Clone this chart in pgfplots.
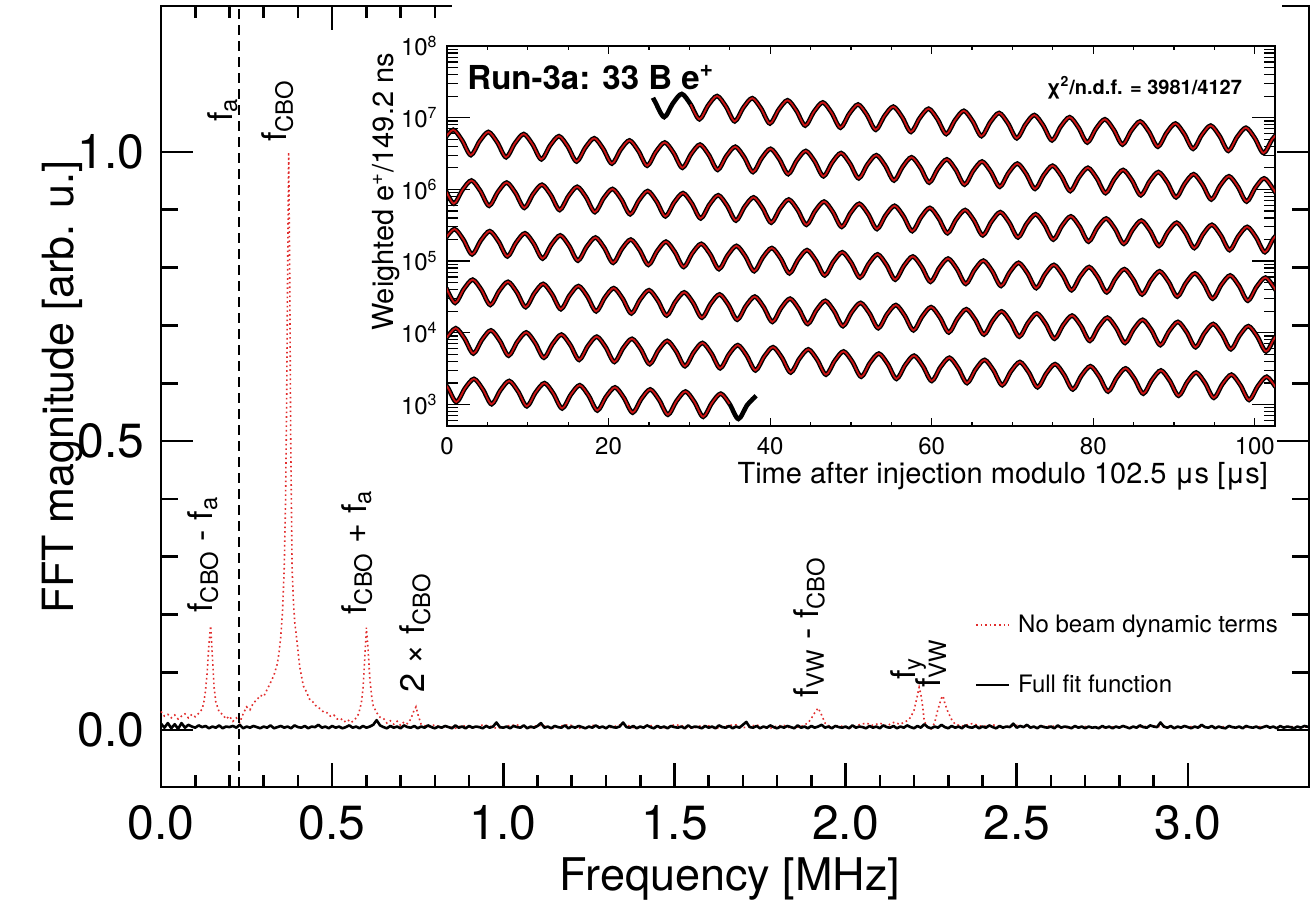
\documentclass[border=0pt]{standalone}
\usepackage{fontspec}
\setmainfont{TeX Gyre Heros}
\usepackage{pgfplots}
\pgfplotsset{compat=1.18}
\usepackage{pgfplotstable}
\definecolor{fitred}{RGB}{205,20,20}
\definecolor{fftred}{RGB}{225,45,45}
\newcommand{\tickfont}{\fontsize{24}{28}\selectfont}
\newcommand{\labfont}{\fontsize{22.5}{26}\selectfont}
\newcommand{\ylabfont}{\fontsize{21.5}{25}\selectfont}
\newcommand{\anfont}{\fontsize{17}{20}\selectfont}
\newcommand{\itick}{\fontsize{12}{14}\selectfont}
\newcommand{\ilab}{\fontsize{14.5}{17}\selectfont}

\pgfplotstableread{
t L
25.50 7.278
25.79 7.216
26.88 7.008
27.97 7.201
29.06 7.331
30.15 7.187
31.24 6.978
32.33 7.172
33.43 7.302
34.52 7.158
35.61 6.949
36.70 7.143
37.79 7.272
38.88 7.128
39.97 6.919
41.06 7.113
42.16 7.243
43.25 7.099
44.34 6.890
45.43 7.084
46.52 7.213
47.61 7.069
48.70 6.860
49.79 7.054
50.89 7.184
51.98 7.040
53.07 6.831
54.16 7.025
55.25 7.154
56.34 7.010
57.43 6.801
58.52 6.995
59.62 7.125
60.71 6.981
61.80 6.772
62.89 6.966
63.98 7.096
65.07 6.952
66.16 6.743
67.25 6.937
68.35 7.066
69.44 6.922
70.53 6.713
71.62 6.907
72.71 7.037
73.80 6.893
74.89 6.684
75.98 6.878
77.08 7.007
78.17 6.863
79.26 6.654
80.35 6.848
81.44 6.978
82.53 6.834
83.62 6.625
84.71 6.819
85.81 6.948
86.90 6.804
87.99 6.595
89.08 6.789
90.17 6.919
91.26 6.775
92.35 6.566
93.44 6.760
94.54 6.890
95.63 6.746
96.72 6.537
97.81 6.731
98.90 6.860
99.99 6.716
101.08 6.507
102.17 6.701
103.27 6.831
}\rowA

\pgfplotstableread{
t L
-0.33 6.701
0.77 6.831
1.86 6.686
2.95 6.478
4.04 6.672
5.13 6.801
6.22 6.657
7.31 6.448
8.40 6.642
9.50 6.772
10.59 6.628
11.68 6.419
12.77 6.613
13.86 6.742
14.95 6.598
16.04 6.389
17.13 6.583
18.23 6.713
19.32 6.569
20.41 6.360
21.50 6.554
22.59 6.683
23.68 6.539
24.77 6.330
25.86 6.524
26.96 6.654
28.05 6.510
29.14 6.301
30.23 6.495
31.32 6.625
32.41 6.481
33.50 6.272
34.59 6.466
35.69 6.595
36.78 6.451
37.87 6.242
38.96 6.436
40.05 6.566
41.14 6.422
42.23 6.213
43.32 6.407
44.42 6.536
45.51 6.392
46.60 6.183
47.69 6.377
48.78 6.507
49.87 6.363
50.96 6.154
52.05 6.348
53.15 6.477
54.24 6.333
55.33 6.124
56.42 6.318
57.51 6.448
58.60 6.304
59.69 6.095
60.78 6.289
61.88 6.419
62.97 6.275
64.06 6.066
65.15 6.260
66.24 6.389
67.33 6.245
68.42 6.036
69.51 6.230
70.61 6.360
71.70 6.216
72.79 6.007
73.88 6.201
74.97 6.330
76.06 6.186
77.15 5.977
78.24 6.171
79.34 6.301
80.43 6.157
81.52 5.948
82.61 6.142
83.70 6.271
84.79 6.127
85.88 5.918
86.97 6.112
88.07 6.242
89.16 6.098
90.25 5.889
91.34 6.083
92.43 6.212
93.52 6.068
94.61 5.859
95.70 6.053
96.80 6.183
97.89 6.039
98.98 5.830
100.07 6.024
101.16 6.154
102.25 6.010
103.34 5.801
}\rowB

\pgfplotstableread{
t L
-0.25 6.010
0.84 5.801
1.93 5.995
3.03 6.124
4.12 5.980
5.21 5.771
6.30 5.965
7.39 6.095
8.48 5.951
9.57 5.742
10.66 5.936
11.76 6.065
12.85 5.921
13.94 5.712
15.03 5.906
16.12 6.036
17.21 5.892
18.30 5.683
19.39 5.877
20.49 6.006
21.58 5.862
22.67 5.653
23.76 5.847
24.85 5.977
25.94 5.833
27.03 5.624
28.12 5.818
29.22 5.948
30.31 5.804
31.40 5.595
32.49 5.789
33.58 5.918
34.67 5.774
35.76 5.565
36.85 5.759
37.95 5.889
39.04 5.745
40.13 5.536
41.22 5.730
42.31 5.859
43.40 5.715
44.49 5.506
45.58 5.700
46.68 5.830
47.77 5.686
48.86 5.477
49.95 5.671
51.04 5.800
52.13 5.656
53.22 5.447
54.31 5.641
55.41 5.771
56.50 5.627
57.59 5.418
58.68 5.612
59.77 5.742
60.86 5.598
61.95 5.389
63.04 5.583
64.14 5.712
65.23 5.568
66.32 5.359
67.41 5.553
68.50 5.683
69.59 5.539
70.68 5.330
71.77 5.524
72.87 5.653
73.96 5.509
75.05 5.300
76.14 5.494
77.23 5.624
78.32 5.480
79.41 5.271
80.50 5.465
81.60 5.594
82.69 5.450
83.78 5.241
84.87 5.435
85.96 5.565
87.05 5.421
88.14 5.212
89.23 5.406
90.33 5.535
91.42 5.391
92.51 5.182
93.60 5.376
94.69 5.506
95.78 5.362
96.87 5.153
97.96 5.347
99.06 5.477
100.15 5.333
101.24 5.124
102.33 5.318
103.42 5.447
}\rowC

\pgfplotstableread{
t L
-0.17 5.318
0.92 5.447
2.01 5.303
3.10 5.094
4.19 5.288
5.29 5.418
6.38 5.274
7.47 5.065
8.56 5.259
9.65 5.388
10.74 5.244
11.83 5.035
12.92 5.229
14.02 5.359
15.11 5.215
16.20 5.006
17.29 5.200
18.38 5.329
19.47 5.185
20.56 4.976
21.65 5.170
22.75 5.300
23.84 5.156
24.93 4.947
26.02 5.141
27.11 5.271
28.20 5.127
29.29 4.918
30.38 5.112
31.48 5.241
32.57 5.097
33.66 4.888
34.75 5.082
35.84 5.212
36.93 5.068
38.02 4.859
39.11 5.053
40.21 5.182
41.30 5.038
42.39 4.829
43.48 5.023
44.57 5.153
45.66 5.009
46.75 4.800
47.84 4.994
48.94 5.123
50.03 4.979
51.12 4.770
52.21 4.964
53.30 5.094
54.39 4.950
55.48 4.741
56.57 4.935
57.67 5.064
58.76 4.920
59.85 4.711
60.94 4.905
62.03 5.035
63.12 4.891
64.21 4.682
65.30 4.876
66.40 5.006
67.49 4.862
68.58 4.653
69.67 4.847
70.76 4.976
71.85 4.832
72.94 4.623
74.03 4.817
75.13 4.947
76.22 4.803
77.31 4.594
78.40 4.788
79.49 4.917
80.58 4.773
81.67 4.564
82.76 4.758
83.86 4.888
84.95 4.744
86.04 4.535
87.13 4.729
88.22 4.858
89.31 4.714
90.40 4.505
91.49 4.699
92.59 4.829
93.68 4.685
94.77 4.476
95.86 4.670
96.95 4.800
98.04 4.656
99.13 4.447
100.22 4.641
101.32 4.770
102.41 4.626
103.50 4.417
}\rowD

\pgfplotstableread{
t L
-0.09 4.626
1.00 4.417
2.09 4.611
3.18 4.741
4.27 4.597
5.36 4.388
6.45 4.582
7.55 4.711
8.64 4.567
9.73 4.358
10.82 4.552
11.91 4.682
13.00 4.538
14.09 4.329
15.18 4.523
16.28 4.652
17.37 4.508
18.46 4.299
19.55 4.493
20.64 4.623
21.73 4.479
22.82 4.270
23.91 4.464
25.01 4.594
26.10 4.450
27.19 4.241
28.28 4.435
29.37 4.564
30.46 4.420
31.55 4.211
32.64 4.405
33.74 4.535
34.83 4.391
35.92 4.182
37.01 4.376
38.10 4.505
39.19 4.361
40.28 4.152
41.37 4.346
42.47 4.476
43.56 4.332
44.65 4.123
45.74 4.317
46.83 4.446
47.92 4.302
49.01 4.093
50.10 4.287
51.20 4.417
52.29 4.273
53.38 4.064
54.47 4.258
55.56 4.387
56.65 4.243
57.74 4.034
58.83 4.228
59.93 4.358
61.02 4.214
62.11 4.005
63.20 4.199
64.29 4.329
65.38 4.185
66.47 3.976
67.56 4.170
68.66 4.299
69.75 4.155
70.84 3.946
71.93 4.140
73.02 4.270
74.11 4.126
75.20 3.917
76.29 4.111
77.39 4.240
78.48 4.096
79.57 3.887
80.66 4.081
81.75 4.211
82.84 4.067
83.93 3.858
85.02 4.052
86.12 4.181
87.21 4.037
88.30 3.828
89.39 4.022
90.48 4.152
91.57 4.008
92.66 3.799
93.75 3.993
94.85 4.123
95.94 3.979
97.03 3.770
98.12 3.964
99.21 4.093
100.30 3.949
101.39 3.740
102.48 3.934
103.58 4.064
}\rowE

\pgfplotstableread{
t L
-0.02 3.934
1.08 4.064
2.17 3.920
3.26 3.711
4.35 3.905
5.44 4.034
6.53 3.890
7.62 3.681
8.71 3.875
9.81 4.005
10.90 3.861
11.99 3.652
13.08 3.846
14.17 3.975
15.26 3.831
16.35 3.622
17.44 3.816
18.54 3.946
19.63 3.802
20.72 3.593
21.81 3.787
22.90 3.916
23.99 3.772
25.08 3.563
26.17 3.757
27.27 3.887
28.36 3.743
29.45 3.534
30.54 3.728
31.63 3.858
32.72 3.714
33.81 3.505
34.90 3.699
36.00 3.828
37.09 3.684
38.18 3.475
39.27 3.669
40.36 3.799
41.45 3.655
42.54 3.446
43.63 3.640
44.73 3.769
45.82 3.625
46.91 3.416
48.00 3.610
49.09 3.740
50.18 3.596
51.27 3.387
52.36 3.581
53.46 3.710
54.55 3.566
55.64 3.357
56.73 3.551
57.82 3.681
58.91 3.537
60.00 3.328
61.09 3.522
62.19 3.652
63.28 3.508
64.37 3.299
65.46 3.493
66.55 3.622
67.64 3.478
68.73 3.269
69.82 3.463
70.92 3.593
72.01 3.449
73.10 3.240
74.19 3.434
75.28 3.563
76.37 3.419
77.46 3.210
78.55 3.404
79.65 3.534
80.74 3.390
81.83 3.181
82.92 3.375
84.01 3.504
85.10 3.360
86.19 3.151
87.28 3.345
88.38 3.475
89.47 3.331
90.56 3.122
91.65 3.316
92.74 3.446
93.83 3.302
94.92 3.093
96.01 3.287
97.11 3.416
98.20 3.272
99.29 3.063
100.38 3.257
101.47 3.387
102.56 3.243
}\rowF

\pgfplotstableread{
t L
-1.03 3.387
0.06 3.243
1.15 3.034
2.24 3.228
3.34 3.357
4.43 3.213
5.52 3.004
6.61 3.198
7.70 3.328
8.79 3.184
9.88 2.975
10.97 3.169
12.07 3.298
13.16 3.154
14.25 2.945
15.34 3.139
16.43 3.269
17.52 3.125
18.61 2.916
19.70 3.110
20.80 3.239
21.89 3.095
22.98 2.886
24.07 3.080
25.16 3.210
26.25 3.066
27.34 2.857
28.43 3.051
29.53 3.181
30.62 3.037
31.71 2.828
32.80 3.022
33.89 3.151
34.98 3.007
36.07 2.798
37.16 2.992
38.26 3.122
}\rowG

\pgfplotstableread[row sep=\\]{
f m\\
0.00 0.011\\ 0.01 0.004\\ 0.02 0.012\\ 0.03 0.003\\ 0.04 0.010\\ 0.05 0.002\\ 0.06 0.012\\ 0.07 0.004\\ 0.08 0.009\\ 0.09 0.006\\
0.10 0.004\\ 0.11 0.008\\ 0.12 0.005\\ 0.13 0.007\\ 0.14 0.003\\ 0.15 0.006\\ 0.16 0.004\\ 0.17 0.008\\ 0.18 0.003\\ 0.19 0.006\\
0.20 0.005\\ 0.21 0.007\\ 0.22 0.004\\ 0.23 0.009\\ 0.24 0.003\\ 0.25 0.006\\ 0.26 0.004\\ 0.27 0.007\\ 0.28 0.005\\ 0.29 0.003\\
0.30 0.006\\ 0.31 0.004\\ 0.32 0.008\\ 0.33 0.003\\ 0.34 0.005\\ 0.35 0.007\\ 0.36 0.004\\ 0.37 0.006\\ 0.38 0.003\\ 0.39 0.008\\
0.40 0.005\\ 0.41 0.004\\ 0.42 0.007\\ 0.43 0.003\\ 0.44 0.006\\ 0.45 0.005\\ 0.46 0.009\\ 0.47 0.004\\ 0.48 0.006\\ 0.49 0.003\\
0.50 0.007\\ 0.51 0.004\\ 0.52 0.006\\ 0.53 0.003\\ 0.54 0.005\\ 0.55 0.008\\ 0.56 0.004\\ 0.57 0.006\\ 0.58 0.003\\ 0.59 0.007\\
0.60 0.004\\ 0.61 0.006\\ 0.62 0.009\\ 0.63 0.017\\ 0.64 0.008\\ 0.65 0.005\\ 0.66 0.003\\ 0.67 0.007\\ 0.68 0.004\\ 0.69 0.006\\
0.70 0.003\\ 0.71 0.008\\ 0.72 0.005\\ 0.73 0.004\\ 0.74 0.007\\ 0.75 0.003\\ 0.76 0.006\\ 0.77 0.004\\ 0.78 0.008\\ 0.79 0.005\\
0.80 0.003\\ 0.81 0.006\\ 0.82 0.004\\ 0.83 0.007\\ 0.84 0.005\\ 0.85 0.003\\ 0.86 0.008\\ 0.87 0.004\\ 0.88 0.006\\ 0.89 0.003\\
0.90 0.007\\ 0.91 0.004\\ 0.92 0.006\\ 0.93 0.005\\ 0.94 0.003\\ 0.95 0.007\\ 0.96 0.004\\ 0.97 0.006\\ 0.98 0.013\\ 0.99 0.005\\
1.00 0.004\\ 1.01 0.006\\ 1.02 0.003\\ 1.03 0.007\\ 1.04 0.005\\ 1.05 0.004\\ 1.06 0.008\\ 1.07 0.003\\ 1.08 0.006\\ 1.09 0.004\\
1.10 0.007\\ 1.11 0.012\\ 1.12 0.004\\ 1.13 0.006\\ 1.14 0.003\\ 1.15 0.007\\ 1.16 0.005\\ 1.17 0.004\\ 1.18 0.008\\ 1.19 0.003\\
1.20 0.006\\ 1.21 0.004\\ 1.22 0.007\\ 1.23 0.005\\ 1.24 0.003\\ 1.25 0.006\\ 1.26 0.004\\ 1.27 0.008\\ 1.28 0.004\\ 1.29 0.006\\
1.30 0.003\\ 1.31 0.007\\ 1.32 0.005\\ 1.33 0.004\\ 1.34 0.006\\ 1.35 0.013\\ 1.36 0.005\\ 1.37 0.004\\ 1.38 0.007\\ 1.39 0.003\\
1.40 0.006\\ 1.41 0.004\\ 1.42 0.008\\ 1.43 0.005\\ 1.44 0.003\\ 1.45 0.007\\ 1.46 0.004\\ 1.47 0.006\\ 1.48 0.003\\ 1.49 0.007\\
1.50 0.005\\ 1.51 0.004\\ 1.52 0.006\\ 1.53 0.003\\ 1.54 0.008\\ 1.55 0.004\\ 1.56 0.006\\ 1.57 0.005\\ 1.58 0.003\\ 1.59 0.007\\
1.60 0.004\\ 1.61 0.006\\ 1.62 0.003\\ 1.63 0.008\\ 1.64 0.005\\ 1.65 0.004\\ 1.66 0.007\\ 1.67 0.003\\ 1.68 0.006\\ 1.69 0.004\\
1.70 0.009\\ 1.71 0.014\\ 1.72 0.005\\ 1.73 0.004\\ 1.74 0.007\\ 1.75 0.003\\ 1.76 0.006\\ 1.77 0.004\\ 1.78 0.008\\ 1.79 0.005\\
1.80 0.003\\ 1.81 0.006\\ 1.82 0.004\\ 1.83 0.007\\ 1.84 0.005\\ 1.85 0.003\\ 1.86 0.008\\ 1.87 0.004\\ 1.88 0.006\\ 1.89 0.003\\
1.90 0.007\\ 1.91 0.004\\ 1.92 0.006\\ 1.93 0.009\\ 1.94 0.004\\ 1.95 0.006\\ 1.96 0.003\\ 1.97 0.007\\ 1.98 0.005\\ 1.99 0.004\\
2.00 0.006\\ 2.01 0.003\\ 2.02 0.008\\ 2.03 0.004\\ 2.04 0.006\\ 2.05 0.005\\ 2.06 0.003\\ 2.07 0.007\\ 2.08 0.004\\ 2.09 0.006\\
2.10 0.003\\ 2.11 0.008\\ 2.12 0.005\\ 2.13 0.004\\ 2.14 0.007\\ 2.15 0.003\\ 2.16 0.006\\ 2.17 0.004\\ 2.18 0.008\\ 2.19 0.005\\
2.20 0.003\\ 2.21 0.007\\ 2.22 0.004\\ 2.23 0.010\\ 2.24 0.005\\ 2.25 0.003\\ 2.26 0.006\\ 2.27 0.004\\ 2.28 0.009\\ 2.29 0.005\\
2.30 0.003\\ 2.31 0.007\\ 2.32 0.004\\ 2.33 0.006\\ 2.34 0.003\\ 2.35 0.008\\ 2.36 0.005\\ 2.37 0.004\\ 2.38 0.007\\ 2.39 0.003\\
2.40 0.006\\ 2.41 0.004\\ 2.42 0.008\\ 2.43 0.005\\ 2.44 0.003\\ 2.45 0.007\\ 2.46 0.004\\ 2.47 0.006\\ 2.48 0.005\\ 2.49 0.011\\
2.50 0.004\\ 2.51 0.007\\ 2.52 0.005\\ 2.53 0.009\\ 2.54 0.004\\ 2.55 0.006\\ 2.56 0.003\\ 2.57 0.007\\ 2.58 0.005\\ 2.59 0.004\\
2.60 0.006\\ 2.61 0.003\\ 2.62 0.008\\ 2.63 0.004\\ 2.64 0.006\\ 2.65 0.005\\ 2.66 0.003\\ 2.67 0.007\\ 2.68 0.004\\ 2.69 0.006\\
2.70 0.003\\ 2.71 0.006\\ 2.72 0.004\\ 2.73 0.005\\ 2.74 0.003\\ 2.75 0.007\\ 2.76 0.004\\ 2.77 0.006\\ 2.78 0.003\\ 2.79 0.006\\
2.80 0.004\\ 2.81 0.007\\ 2.82 0.005\\ 2.83 0.003\\ 2.84 0.006\\ 2.85 0.004\\ 2.86 0.008\\ 2.87 0.005\\ 2.88 0.004\\ 2.89 0.008\\
2.90 0.006\\ 2.91 0.005\\ 2.92 0.013\\ 2.93 0.006\\ 2.94 0.004\\ 2.95 0.007\\ 2.96 0.003\\ 2.97 0.006\\ 2.98 0.004\\ 2.99 0.007\\
3.00 0.005\\ 3.01 0.003\\ 3.02 0.006\\ 3.03 0.004\\ 3.04 0.009\\ 3.05 0.005\\ 3.06 0.004\\ 3.07 0.007\\ 3.08 0.003\\ 3.09 0.006\\
3.10 0.004\\ 3.11 0.003\\ 3.12 0.007\\ 3.13 0.005\\ 3.14 0.004\\ 3.15 0.006\\ 3.16 0.003\\ 3.17 0.007\\ 3.18 0.005\\ 3.19 0.004\\
3.20 0.006\\ 3.21 0.003\\ 3.22 0.005\\ 3.23 0.007\\ 3.24 0.004\\ 3.25 0.006\\ 3.26 0.003\\ 3.27 0.007\\ 3.28 0.004\\ 3.29 0.006\\
3.30 0.005\\ 3.31 0.003\\ 3.32 0.006\\ 3.33 0.004\\ 3.34 0.007\\ 3.354 0.005\\
}\fullfit

\pgfplotstableread{
f m
0.00 0.032
0.01 0.024
0.02 0.027
0.03 0.021
0.04 0.026
0.05 0.019
0.06 0.024
0.07 0.028
0.08 0.021
0.09 0.027
0.10 0.023
0.11 0.029
0.12 0.036
0.125 0.047
0.13 0.068
0.135 0.100
0.14 0.148
0.145 0.180
0.15 0.128
0.155 0.075
0.16 0.049
0.165 0.040
0.17 0.031
0.18 0.027
0.19 0.019
0.20 0.024
0.21 0.015
0.22 0.021
0.23 0.013
0.24 0.028
0.25 0.040
0.26 0.035
0.27 0.047
0.28 0.052
0.29 0.060
0.30 0.058
0.31 0.070
0.32 0.082
0.33 0.095
0.34 0.115
0.345 0.135
0.35 0.162
0.355 0.205
0.36 0.280
0.364 0.400
0.367 0.560
0.370 0.800
0.373 1.000
0.376 0.790
0.379 0.500
0.383 0.280
0.387 0.220
0.391 0.185
0.397 0.155
0.405 0.110
0.416 0.076
0.425 0.066
0.435 0.052
0.445 0.048
0.455 0.040
0.465 0.037
0.475 0.031
0.485 0.030
0.495 0.024
0.505 0.026
0.515 0.019
0.525 0.020
0.535 0.014
0.545 0.018
0.555 0.013
0.565 0.017
0.575 0.025
0.58 0.034
0.585 0.046
0.59 0.070
0.595 0.120
0.600 0.177
0.605 0.140
0.61 0.090
0.615 0.060
0.62 0.042
0.63 0.030
0.64 0.022
0.65 0.020
0.66 0.012
0.67 0.016
0.68 0.010
0.69 0.015
0.70 0.008
0.71 0.014
0.72 0.011
0.73 0.019
0.738 0.032
0.745 0.040
0.752 0.024
0.76 0.010
0.78 0.005
0.80 0.009
0.82 0.004
0.84 0.006
0.86 0.003
0.88 0.008
0.90 0.005
0.92 0.004
0.94 0.009
0.96 0.007
0.98 0.003
1.00 0.005
1.02 0.008
1.04 0.009
1.06 0.004
1.08 0.004
1.10 0.008
1.12 0.007
1.14 0.003
1.16 0.005
1.18 0.009
1.20 0.008
1.22 0.003
1.24 0.004
1.26 0.008
1.28 0.007
1.30 0.003
1.32 0.005
1.34 0.009
1.36 0.009
1.38 0.004
1.40 0.004
1.42 0.008
1.44 0.007
1.46 0.003
1.48 0.005
1.50 0.009
1.52 0.008
1.54 0.003
1.56 0.004
1.58 0.008
1.60 0.007
1.62 0.003
1.64 0.005
1.66 0.008
1.68 0.009
1.70 0.004
1.72 0.006
1.74 0.009
1.76 0.004
1.78 0.003
1.80 0.007
1.82 0.008
1.84 0.003
1.87 0.006
1.89 0.012
1.90 0.020
1.91 0.030
1.92 0.038
1.93 0.026
1.94 0.012
1.96 0.004
1.98 0.008
2.01 0.003
2.04 0.009
2.06 0.012
2.08 0.008
2.10 0.012
2.12 0.007
2.14 0.013
2.16 0.010
2.18 0.016
2.19 0.022
2.20 0.034
2.205 0.047
2.21 0.060
2.215 0.074
2.22 0.062
2.225 0.042
2.23 0.015
2.24 0.005
2.25 0.002
2.26 0.012
2.27 0.036
2.28 0.055
2.285 0.059
2.29 0.046
2.30 0.030
2.31 0.018
2.32 0.010
2.34 0.007
2.37 0.011
2.40 0.006
2.43 0.009
2.46 0.005
2.50 0.008
2.55 0.005
2.60 0.007
2.65 0.004
2.70 0.006
2.75 0.004
2.80 0.006
2.85 0.005
2.90 0.007
2.95 0.004
3.00 0.006
3.05 0.005
3.10 0.006
3.15 0.004
3.20 0.006
3.25 0.005
3.30 0.006
3.354 0.005
}\nobd

\begin{document}
\begin{tikzpicture}
\useasboundingbox (0,0) rectangle (655pt,452pt);
\begin{axis}[
  at={(80.5pt,58.5pt)}, anchor=south west,
  scale only axis, width=574pt, height=390.5pt,
  xmin=0, xmax=3.354, ymin=-0.0986, ymax=1.2526,
  clip=false,
  axis line style={line width=1.3pt},
  tick align=inside,
  major tick length=14pt, minor tick length=7pt,
  xtick={0,0.5,1.0,1.5,2.0,2.5,3.0},
  xticklabels={0.0,0.5,1.0,1.5,2.0,2.5,3.0},
  minor x tick num=4,
  ytick={0,0.5,1.0}, yticklabels={0.0,0.5,1.0},
  minor y tick num=4,
  xtick style={line width=1.3pt, black, /pgfplots/major tick length=12pt, /pgfplots/minor tick length=6pt},
  ytick style={line width=1.3pt, black, /pgfplots/major tick length=16pt, /pgfplots/minor tick length=8.5pt},
  ticklabel style={font=\tickfont},
  xticklabel style={anchor=north, inner sep=0pt, yshift=-9pt},
  yticklabel style={anchor=east, inner sep=0pt, xshift=-8pt},
  xlabel={Frequency [MHz]},
  ylabel={FFT magnitude [arb. u.]},
  xlabel style={font=\labfont, at={(axis description cs:0.4956,-0.1319)}, anchor=base},
  ylabel style={font=\ylabfont, at={(axis description cs:-0.0765,0.512)}, anchor=base},
  legend style={at={(axis cs:2.377,0.199)}, anchor=north west, draw=none, fill=none,
    inner sep=0pt, outer sep=0pt, font=\itick, row sep=18pt, column sep=4pt,
    cells={anchor=base west},
    nodes={inner sep=0pt, text height=9pt, text depth=3pt}},
  legend image code/.code={\draw[#1] (0pt,4pt) -- (16.5pt,4pt);},
]
\addplot[fftred, line width=0.8pt, dash pattern=on 0.8pt off 1.5pt] table[x=f, y=m] {\nobd};
\addlegendentry{No beam dynamic terms}
\addplot[black, line width=1.3pt, line join=round] table[x=f, y=m] {\fullfit};
\addlegendentry{Full fit function}
\addplot[black, line width=1pt, dash pattern=on 5pt off 3pt, forget plot] coordinates {(0.229,-0.0986) (0.229,1.2526)};
\begin{scope}[every node/.style={rotate=90, anchor=base west, inner sep=0pt, font=\anfont}]
\node at (axis cs:0.149,0.2025) {f\textsubscript{CBO} - f\textsubscript{a}};
\node at (axis cs:0.2076,1.052) {f\textsubscript{a}};
\node at (axis cs:0.368,1.017) {f\textsubscript{CBO}};
\node at (axis cs:0.599,0.199) {f\textsubscript{CBO} + f\textsubscript{a}};
\node at (axis cs:0.769,0.064) {2 × f\textsubscript{CBO}};
\node at (axis cs:1.921,0.055) {f\textsubscript{VW} - f\textsubscript{CBO}};
\node at (axis cs:2.205,0.0865) {f\textsubscript{y}};
\node at (axis cs:2.278,0.0727) {f\textsubscript{VW}};
\end{scope}
\end{axis}
\fill[white] (226pt,435.5pt) rectangle (641pt,453pt);
\begin{axis}[
  at={(223.5pt,239pt)}, anchor=south west,
  scale only axis, width=414pt, height=190pt,
  xmin=0, xmax=102.5, ymin=2.7, ymax=8,
  axis background/.style={fill=white},
  axis line style={line width=0.9pt},
  tick align=inside,
  xtick={0,20,40,60,80,100}, xticklabels={0,20,40,60,80,100},
  minor x tick num=3,
  ytick={3,4,5,6,7,8},
  yticklabels={10\textsuperscript{3},10\textsuperscript{4},10\textsuperscript{5},10\textsuperscript{6},10\textsuperscript{7},10\textsuperscript{8}},
  minor ytick={2.778,2.845,2.903,2.954,
    3.301,3.477,3.602,3.699,3.778,3.845,3.903,3.954,
    4.301,4.477,4.602,4.699,4.778,4.845,4.903,4.954,
    5.301,5.477,5.602,5.699,5.778,5.845,5.903,5.954,
    6.301,6.477,6.602,6.699,6.778,6.845,6.903,6.954,
    7.301,7.477,7.602,7.699,7.778,7.845,7.903,7.954},
  xtick style={line width=0.6pt, black, /pgfplots/major tick length=4pt, /pgfplots/minor tick length=2pt},
  ytick style={line width=0.6pt, black, /pgfplots/major tick length=11.5pt, /pgfplots/minor tick length=5.5pt},
  ticklabel style={font=\itick},
  xticklabel style={anchor=north, inner sep=0pt, yshift=-5.5pt},
  yticklabel style={anchor=east, inner sep=0pt, xshift=-4.5pt},
  xlabel={Time after injection modulo 102.5 μs [μs]},
  ylabel={Weighted e\textsuperscript{+}/149.2 ns},
  label style={font=\ilab},
  xlabel style={at={(axis description cs:1,-0.1526)}, anchor=base east},
  ylabel style={at={(axis description cs:-0.0652,1)}, anchor=base east},
]
\addplot[black, line width=2.3pt, smooth] table {\rowA};
\addplot[fitred, line width=0.9pt, smooth, restrict x to domain=30:110] table {\rowA};
\addplot[black, line width=2.3pt, smooth] table {\rowB};
\addplot[fitred, line width=0.9pt, smooth] table {\rowB};
\addplot[black, line width=2.3pt, smooth] table {\rowC};
\addplot[fitred, line width=0.9pt, smooth] table {\rowC};
\addplot[black, line width=2.3pt, smooth] table {\rowD};
\addplot[fitred, line width=0.9pt, smooth] table {\rowD};
\addplot[black, line width=2.3pt, smooth] table {\rowE};
\addplot[fitred, line width=0.9pt, smooth] table {\rowE};
\addplot[black, line width=2.3pt, smooth] table {\rowF};
\addplot[fitred, line width=0.9pt, smooth] table {\rowF};
\addplot[black, line width=2.3pt, smooth] table {\rowG};
\addplot[fitred, line width=0.9pt, smooth, restrict x to domain=-5:35] table {\rowG};
\node[anchor=base west, inner sep=0pt, font=\fontsize{16.5}{19}\selectfont\bfseries] at (axis cs:2.48,7.40) {Run-3a: 33 B e\textsuperscript{+}};
\node[anchor=base east, inner sep=0pt, font=\fontsize{10}{12}\selectfont\bfseries] at (axis cs:98.45,7.33) {χ\textsuperscript{2}/n.d.f. = 3981/4127};
\end{axis}
\end{tikzpicture}
\end{document}
